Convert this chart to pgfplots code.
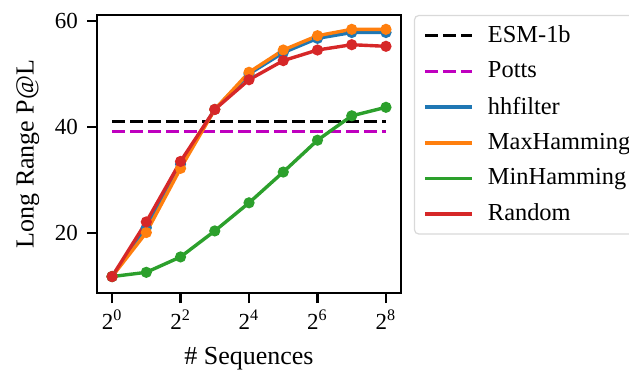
\documentclass[border=0pt]{standalone}
\usepackage{fontspec}
\setmainfont{Liberation Serif}
\usepackage{pgfplots}
\pgfplotsset{compat=1.18}
\definecolor{tabblue}{HTML}{1F77B4}
\definecolor{taborange}{HTML}{FF7F0E}
\definecolor{tabgreen}{HTML}{2CA02C}
\definecolor{tabred}{HTML}{D62728}
\definecolor{pottsm}{HTML}{BF00BF}
\begin{document}
\begin{tikzpicture}
\begin{axis}[name=ax, at={(0,0)}, anchor=south west, scale only axis,
  width=152pt, height=139pt,
  xmode=log, log basis x=2, xmin=0.737, xmax=347, ymin=8.7, ymax=61.1,
  xtick={1,4,16,64,256},
  xticklabels={2\textsuperscript{0},2\textsuperscript{2},2\textsuperscript{4},2\textsuperscript{6},2\textsuperscript{8}},
  ytick={20,40,60}, minor tick num=0,
  /pgf/number format/assume math mode=true,
  tick align=outside, xtick pos=bottom, ytick pos=left,
  major tick length=5pt, tick style={line width=1.2pt, black},
  axis line style={line width=1.3pt},
  tick label style={font=\fontsize{11.5}{13}\selectfont},
  yticklabel style={xshift=-1pt},
  label style={font=\fontsize{13}{15}\selectfont},
  xlabel={\# Sequences}, ylabel={Long Range P@L},
  xlabel style={yshift=-2pt},
  ylabel style={yshift=1pt},
  legend style={at={(1,1)}, anchor=north west, xshift=6.5pt, draw=black!15, line width=0.6pt,
    rounded corners=2pt, font=\fontsize{12.2}{13}\selectfont, row sep=4.1pt, column sep=5pt,
    inner xsep=4.5pt, inner ysep=3pt},
  legend cell align=left,
  every axis plot/.append style={line width=1.7pt},
  legend image code/.code={\draw[#1] (0pt,0pt) -- (23.5pt,0pt);},
  mark options={solid, draw=white, line width=0.5pt},
  mark size=1.9pt,
]
\addplot[black, dash pattern=on 6.3pt off 2.7pt, line width=1.7pt] coordinates {(1,41.0) (256,41.0)};
\addlegendentry{ESM-1b}
\addplot[pottsm, dash pattern=on 6.3pt off 2.7pt, line width=1.7pt] coordinates {(1,39.1) (256,39.1)};
\addlegendentry{Potts}
\addplot[tabblue, mark=*, mark options={fill=tabblue}] coordinates {
(1,11.8) (2,21.0) (4,33.0) (8,43.3) (16,50.0) (32,54.0) (64,56.7) (128,57.8) (256,57.8)};
\addlegendentry{hhfilter}
\addplot[taborange, mark=*, mark options={fill=taborange}] coordinates {
(1,11.8) (2,20.1) (4,32.2) (8,43.3) (16,50.3) (32,54.5) (64,57.2) (128,58.4) (256,58.4)};
\addlegendentry{MaxHamming}
\addplot[tabgreen, mark=*, mark options={fill=tabgreen}] coordinates {
(1,11.8) (2,12.6) (4,15.5) (8,20.4) (16,25.7) (32,31.5) (64,37.5) (128,42.1) (256,43.7)};
\addlegendentry{MinHamming}
\addplot[tabred, mark=*, mark options={fill=tabred}] coordinates {
(1,11.8) (2,22.1) (4,33.5) (8,43.3) (16,48.9) (32,52.5) (64,54.5) (128,55.5) (256,55.2)};
\addlegendentry{Random}
\end{axis}
\pgfresetboundingbox
\path (-48.5pt,-39.5pt) rectangle (266pt,146.5pt);
\end{tikzpicture}
\end{document}
